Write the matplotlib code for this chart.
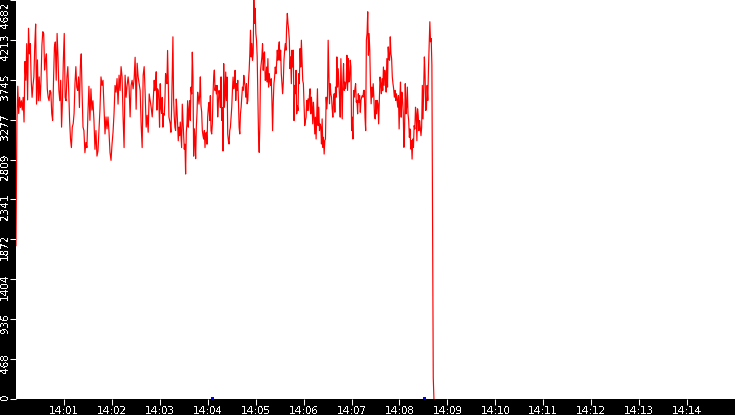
import matplotlib
matplotlib.use('Agg')
import matplotlib.pyplot as plt
import matplotlib.transforms as mtrans
import numpy as np

# readings, seconds after 14:00:00; each stretch starts at seg_start
seg_start = [0, 85, 173, 260, 348, 436]
seg_end = 524

vals_a = [1800, 3250, 3670, 3350, 3540, 3420, 3500, 3390, 3540, 3250, 3960, 3740, 4170, 3510, 4350, 4050,
          4170, 3740, 3540, 3680, 3780, 4150, 4400, 3460, 3980, 3500, 3780, 3500, 3740, 4150, 4310, 4290,
          3860, 3980, 4050, 3640, 3540, 3500, 3620, 3600, 3350, 3270, 3740, 4130, 4190, 3740, 4290, 4010,
          3620, 3500, 3740, 3190, 3500, 3980, 4290, 3540, 3500, 3780, 3900, 3620, 3270, 3050, 2950, 3190,
          3230, 3350, 3700, 3900, 3660, 3620, 3780, 3420, 3900, 4050, 3580, 3190]
vals_b = [3150, 2890, 3010, 2950, 3350, 3670, 3270, 3640, 3390, 3500, 3270, 2930, 3150, 2850, 2910, 3150,
          3400, 3780, 3680, 3740, 3420, 3110, 3310, 3170, 3310, 3130, 2890, 2800, 2990, 3130, 3350, 3680,
          3600, 3760, 3460, 3800, 3620, 3900, 3780, 3310, 2950, 3800, 3540, 3680, 3780, 3660, 3310, 3680,
          3740, 3640, 3760, 4010, 3400, 3940, 3780, 3700, 3620, 3210, 2950, 3800, 3900, 3580, 3190, 3330,
          3130, 3580, 3500, 3420, 3310, 3500]
vals_c = [3740, 3620, 3700, 3840, 3390, 3640, 3620, 3500, 3190, 3700, 3420, 3350, 3540, 3190, 3350, 3330,
          3500, 3820, 3740, 3700, 4090, 3740, 3310, 3270, 3230, 3130, 3400, 3800, 4250, 3520, 3310, 3190,
          3150, 3520, 3390, 3230, 3030, 3190, 3090, 3250, 3110, 2950, 3460, 3290, 3110, 2930, 2990, 2640,
          3130, 3230, 3500, 3190, 3390, 3500, 3270, 3660, 3580, 4070, 3780, 2850, 3170, 3070, 2820, 3190,
          3350, 3600, 3540, 3460, 3560, 3780, 3440, 3370, 3150, 3090, 3050, 3150, 2950, 3110, 3130, 2990,
          3310, 3420, 3480, 3270, 3560, 3150, 3110, 3230, 3580, 3780, 3860, 3620, 3680, 3580, 3680, 3310,
          3480, 3620, 3560, 3420, 3780, 3270, 3420, 2910]
vals_d = [3935, 3424, 3542, 3837, 3503, 3778, 3110, 3031, 2992, 3149, 3189, 3307, 3424, 3621, 3778, 3640,
          3700, 3857, 3503, 3700, 3621, 3739, 3503, 3189, 3110, 3346, 3424, 3542, 3660, 3621, 3798, 3719,
          3660, 3542, 3700, 3464, 3503, 3739, 3857, 4053, 4328, 4014, 4171, 3975, 4053, 4682, 4407, 4584,
          4289, 4210, 4014, 3582, 3090, 2894, 3228, 3857, 3935, 4014, 4171, 3857, 4053, 4073, 3739, 3758,
          3896, 3719, 3994, 3660, 3817, 3739, 3680, 3758, 3503, 3149, 3483, 3700, 3778, 3896, 3817, 3935,
          4093, 3975, 4132, 4191, 3975, 4093, 3817, 3700, 3582, 3719, 3975, 4093, 4171, 4093, 4368, 4525,
          4407, 4328, 4210, 3876, 4014, 3700, 4093, 3896, 4093]
vals_e = [3267, 3680, 3582, 3857, 3346, 3444, 3385, 3817, 3700, 4112, 3896, 4210, 3975, 3739, 3700, 3444,
          3208, 3267, 3307, 3503, 3385, 3523, 3385, 3562, 3640, 3346, 3542, 3424, 3228, 3483, 3326, 3110,
          3307, 3051, 3346, 3640, 3208, 3424, 3149, 3228, 3189, 2992, 3287, 2953, 3071, 2874, 3031, 3051,
          3542, 3405, 3542, 4210, 3837, 3464, 3700, 3582, 3542, 3405, 3307, 3503, 3582, 3365, 3660, 3542,
          4014, 3660, 3876, 3719, 3542, 3307, 3994, 3660, 3287, 3739, 3935, 3621, 3719, 3640, 3719, 4034,
          3621, 3994, 3719, 3739, 3975, 3896, 3149, 3307, 3051, 3621, 3542, 3640, 3700, 3483, 3503, 3346,
          3582, 3483, 3562, 3365, 3503, 3542, 3562, 3542, 3621]
vals_f = [3621, 3307, 3149, 4210, 4289, 4544, 4034, 4289, 4093, 3680, 3464, 3660, 3542, 3700, 3542, 3307,
          3287, 3503, 3346, 3503, 3464, 3228, 3503, 3778, 3700, 3582, 3758, 3621, 3896, 3680, 3857, 3778,
          3601, 3994, 3660, 4132, 3994, 3975, 4250, 4053, 3994, 3778, 3700, 3640, 3542, 3621, 3503, 3582,
          3503, 3424, 3562, 3169, 3503, 3719, 3307, 3601, 3523, 3365, 2953, 3189, 3700, 3346, 3424, 3660,
          3346, 3267, 3071, 3169, 2933, 3031, 2815, 3051, 2953, 3208, 3169, 3424, 3346, 3031, 3405, 3326,
          3149, 3267, 3189, 3090, 3189, 3680, 3287, 3640, 4014, 3798, 3385, 3405, 3680, 3503, 3876, 4171,
          4427, 4191, 4230, 3916, 2200, 250, 0]

# second series, only two small blips at the bottom edge
blue_t = [245, 511]
blue_v = [25, 25]

y_max = 4682
y_ticks = [0, 468, 936, 1404, 1872, 2341, 2809, 3277, 3745, 4213, 4682]
x_ticks = [60, 120, 180, 240, 300, 360, 420, 480, 540, 600, 660, 720, 780, 840]
x_labels = ['14:01', '14:02', '14:03', '14:04', '14:05', '14:06', '14:07',
            '14:08', '14:09', '14:10', '14:11', '14:12', '14:13', '14:14']

plt.rcParams['text.antialiased'] = False

segments = [vals_a, vals_b, vals_c, vals_d, vals_e, vals_f]
ends = seg_start[1:] + [seg_end]
t = np.concatenate([np.linspace(s, e, len(v), endpoint=False)
                    for s, e, v in zip(seg_start, ends, segments)])
v = np.concatenate([np.array(s, dtype=float) for s in segments])

fig = plt.figure(figsize=(7.35, 4.15), dpi=100, facecolor='black')
ax = fig.add_axes([16 / 735, 16 / 415, 1 - 16 / 735, 1 - 16 / 415])
ax.set_facecolor('white')

ax.plot(t, v, color='red', lw=0.85)
ax.vlines(blue_t, 0, blue_v, color='blue', lw=0.8, antialiased=False)

ax.set_xlim(0, 900)
ax.set_ylim(0, y_max)
for sp in ax.spines.values():
    sp.set_visible(False)

ax.set_xticks(x_ticks)
ax.set_xticklabels(x_labels)
ax.tick_params(axis='x', colors='white', direction='out', length=4.5, width=0.75,
               labelsize=7.5, pad=0.3)
ax.set_yticks(y_ticks)
ax.tick_params(axis='y', colors='white', direction='out', length=4, width=0.75,
               labelleft=False)

# y labels sit a bit above their ticks, rotated
base = mtrans.blended_transform_factory(ax.transAxes, ax.transData)
for yt in y_ticks:
    dy = 6 / 100 if yt != y_max else -2 / 100
    tr = base + mtrans.ScaledTranslation(-11 / 100, dy, fig.dpi_scale_trans)
    ax.text(0, yt, str(yt), transform=tr, rotation=90, ha='center', va='top',
            color='white', fontsize=7.5, clip_on=False)

fig.savefig('out.png', dpi=100, facecolor='black')
